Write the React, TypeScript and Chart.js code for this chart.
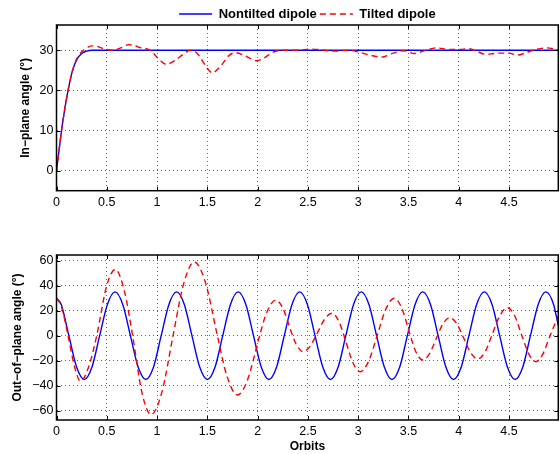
import React, { useEffect, useRef } from "react";
import { Chart, registerables } from "chart.js";

Chart.register(...registerables);

// ---------- data ----------
const X_TICKS = [0, 0.5, 1, 1.5, 2, 2.5, 3, 3.5, 4, 4.5];
const X_MIN = 0;
const X_MAX = 4.99;

const IN_Y_TICKS = [0, 10, 20, 30];
const IN_Y_MIN = -5;
const IN_Y_MAX = 36.3;

const OUT_Y_TICKS = [-60, -40, -20, 0, 20, 40, 60];
const OUT_Y_MIN = -67.4;
const OUT_Y_MAX = 64.5;

const SERIES_NAMES = ["Nontilted dipole", "Tilted dipole"];

// In-plane angle, nontilted dipole
const IN_X_BLUE = [0, 0.025, 0.05, 0.08, 0.115, 0.16, 0.2, 0.25, 0.3, 0.35, 0.4, 0.5, 1, 2, 3, 4, 4.99];
const IN_Y_BLUE = [0, 5, 10, 15, 20, 25, 27.6, 29.2, 29.8, 30, 30, 30, 30, 30, 30, 30, 30];

// In-plane angle, tilted dipole
const IN_X_RED = [
  0, 0.025, 0.05, 0.08, 0.115, 0.16, 0.2, 0.25, 0.3, 0.35,
  0.4, 0.47, 0.56, 0.64, 0.715, 0.78, 0.83, 0.93, 1.03, 1.09,
  1.18, 1.26, 1.33, 1.4, 1.5, 1.55, 1.63, 1.72, 1.78, 1.86,
  1.93, 1.99, 2.06, 2.13, 2.23, 2.4, 2.52, 2.6, 2.7, 2.8,
  2.9, 3.0, 3.1, 3.23, 3.35, 3.45, 3.56, 3.66, 3.78, 3.9,
  4.0, 4.1, 4.2, 4.27, 4.35, 4.42, 4.5, 4.58, 4.66, 4.74,
  4.87, 4.99,
];
const IN_Y_RED = [
  0, 5, 10, 15, 20, 25, 27.8, 29.6, 30.6, 31.1,
  31.0, 30.4, 30.0, 30.6, 31.4, 31.1, 30.7, 30.0, 27.5, 26.5,
  27.5, 29.0, 30.0, 29.2, 25.5, 24.4, 26.0, 28.8, 29.4, 28.8,
  27.9, 27.4, 28.0, 29.2, 30.0, 30.0, 30.3, 30.2, 29.9, 29.8,
  30.0, 29.6, 28.9, 28.3, 29.3, 29.9, 29.2, 29.9, 30.6, 30.2,
  30.2, 30.4, 29.5, 29.0, 29.2, 29.3, 29.3, 28.8, 29.3, 30.0,
  30.6, 30.1,
];

// Out-of-plane angle, nontilted dipole
const OUT_X_BLUE = [
  0, 0.047, 0.123, 0.2, 0.276, 0.353, 0.429, 0.506, 0.582, 0.659,
  0.735, 0.812, 0.888, 0.965, 1.041, 1.118, 1.194, 1.271, 1.347, 1.424,
  1.5, 1.577, 1.653, 1.73, 1.806, 1.883, 1.959, 2.036, 2.112, 2.189,
  2.265, 2.342, 2.418, 2.495, 2.571, 2.648, 2.724, 2.801, 2.877, 2.954,
  3.03, 3.107, 3.183, 3.26, 3.336, 3.413, 3.489, 3.566, 3.642, 3.719,
  3.795, 3.872, 3.948, 4.025, 4.101, 4.178, 4.254, 4.331, 4.407, 4.484,
  4.56, 4.637, 4.713, 4.79, 4.866, 4.943, 4.99,
];
const OUT_Y_BLUE = [
  30, 25, 0, -25, -35, -25, 0, 25, 35, 25,
  0, -25, -35, -25, 0, 25, 35, 25, 0, -25,
  -35, -25, 0, 25, 35, 25, 0, -25, -35, -25,
  0, 25, 35, 25, 0, -25, -35, -25, 0, 25,
  35, 25, 0, -25, -35, -25, 0, 25, 35, 25,
  0, -25, -35, -25, 0, 25, 35, 25, 0, -25,
  -35, -25, 0, 25, 35, 25, 8,
];

// Out-of-plane angle, tilted dipole
const OUT_X_RED = [
  0, 0.05, 0.115, 0.18, 0.24,
  0.326, 0.4, 0.499, 0.585,
  0.674, 0.757, 0.851, 0.94,
  1.048, 1.159, 1.263, 1.37,
  1.478, 1.6, 1.693, 1.8,
  1.895, 2.02, 2.085, 2.18,
  2.248, 2.348, 2.383, 2.45,
  2.523, 2.58, 2.668, 2.74,
  2.81, 2.859, 2.95, 3.02,
  3.105, 3.188, 3.275, 3.36,
  3.43, 3.519, 3.57, 3.64,
  3.708, 3.788, 3.843, 3.91,
  3.98, 4.039, 4.12, 4.19,
  4.264, 4.328, 4.411, 4.484,
  4.555, 4.628, 4.696, 4.766,
  4.836, 4.908, 4.99,
];
const OUT_Y_RED = [
  30, 23, 0, -25, -36.5,
  -23.4, 0, 39.9, 53,
  36, 0, -46, -63,
  -45.1, 0, 41.1, 59,
  43.4, 0, -31.8, -47.4,
  -36.3, 0, 17.4, 28.5,
  22.5, 0, -6.7, -12.8,
  -8.3, 0, 13.4, 17.9,
  11.1, 0, -22, -28.8,
  -20.2, 0, 21.3, 29.9,
  22.7, 0, -12.2, -19.4,
  -14.5, 0, 9.5, 14.4,
  9.6, 0, -13.8, -18.6,
  -12.6, 0, 16.4, 22.4,
  16.1, 0, -14.5, -20.8,
  -14.8, 0, 15.8,
];

// ---------- styling ----------
const FONT = "'Liberation Sans', Arial, Helvetica, sans-serif";
const BLUE = "#0000ff";
const RED = "#ff0000";
const GRID = "rgba(0,0,0,0.6)";
const PLOT_LEFT = 56.5;
const PLOT_RIGHT = 558.3;
const W = 560;
const LINE_W = 1.4;

const fmt = (v: number) => (v < 0 ? "\u2212" + Math.abs(v) : String(v));
const pts = (xs: number[], ys: number[]) => xs.map((x, i) => ({ x, y: ys[i] }));

const framePlugin = {
  id: "frame",
  afterDatasetsDraw(chart: any) {
    const { ctx, chartArea: a, scales } = chart;
    const xs = scales.x;
    const ys = scales.y;
    ctx.save();
    ctx.strokeStyle = "#000";
    ctx.lineWidth = 1;
    ctx.beginPath();
    for (const t of xs.ticks) {
      const px = Math.round(xs.getPixelForValue(t.value)) + 0.5;
      ctx.moveTo(px, a.bottom);
      ctx.lineTo(px, a.bottom - 4);
      ctx.moveTo(px, a.top);
      ctx.lineTo(px, a.top + 4);
    }
    for (const t of ys.ticks) {
      const py = Math.round(ys.getPixelForValue(t.value)) + 0.5;
      ctx.moveTo(a.left, py);
      ctx.lineTo(a.left + 4, py);
      ctx.moveTo(a.right, py);
      ctx.lineTo(a.right - 4, py);
    }
    ctx.stroke();
    ctx.lineWidth = 1.5;
    ctx.strokeRect(a.left, a.top, a.right - a.left, a.bottom - a.top);
    ctx.restore();
  },
};

const legendFitPlugin = (h: number) => ({
  id: "legendFit",
  beforeLayout(chart: any) {
    const lg = chart.legend;
    if (lg && !lg.__patched) {
      const orig = lg.fit;
      lg.fit = function () {
        orig.call(this);
        if (this.options && this.options.display) this.height = h;
      };
      lg.__patched = true;
    }
  },
});

function makeConfig(opts: {
  blueX: number[]; blueY: number[]; redX: number[]; redY: number[];
  yTicks: number[]; yMin: number; yMax: number; yTitle: string; yTitlePad: number;
  xHeight: number; showXTitle: boolean; legend: boolean;
  padTop: number; padBottom: number;
}) {
  return {
    type: "line",
    data: {
      datasets: [
        {
          label: SERIES_NAMES[0],
          data: pts(opts.blueX, opts.blueY),
          borderColor: BLUE,
          backgroundColor: BLUE,
          borderWidth: LINE_W,
          pointRadius: 0,
          cubicInterpolationMode: "monotone",
          fill: false,
          order: 1,
        },
        {
          label: SERIES_NAMES[1],
          data: pts(opts.redX, opts.redY),
          borderColor: RED,
          backgroundColor: RED,
          borderWidth: LINE_W,
          borderDash: [6, 4],
          pointRadius: 0,
          cubicInterpolationMode: "monotone",
          fill: false,
          order: 0,
        },
      ],
    },
    options: {
      responsive: false,
      maintainAspectRatio: false,
      animation: false,
      devicePixelRatio: 1,
      events: [],
      layout: { padding: { left: 0, right: W - PLOT_RIGHT, top: opts.padTop, bottom: opts.padBottom } },
      plugins: {
        tooltip: { enabled: false },
        legend: {
          display: opts.legend,
          position: "top",
          fullSize: false,
          align: "center",
          labels: {
            usePointStyle: true,
            pointStyle: "line",
            pointStyleWidth: 33,
            padding: 3,
            color: "#000",
            font: { family: FONT, size: 13, weight: "bold" },
            sort: (a: any, b: any) => a.datasetIndex - b.datasetIndex,
            generateLabels: (chart: any) => {
              const items = Chart.defaults.plugins.legend.labels.generateLabels(chart);
              return items.map((it: any) => {
                const ds = chart.data.datasets[it.datasetIndex];
                return {
                  ...it,
                  pointStyle: "line",
                  strokeStyle: ds.borderColor,
                  fillStyle: ds.borderColor,
                  lineWidth: ds.borderWidth,
                  lineDash: ds.borderDash || [],
                  lineDashOffset: 0,
                  fontColor: "#000",
                };
              });
            },
          },
        },
      },
      scales: {
        x: {
          type: "linear",
          min: X_MIN,
          max: X_MAX,
          afterBuildTicks: (s: any) => {
            s.ticks = X_TICKS.map((v) => ({ value: v }));
          },
          afterFit: (s: any) => {
            s.height = opts.xHeight;
          },
          grid: { color: GRID, lineWidth: 1, drawTicks: false },
          border: { display: false, dash: [1, 3] },
          ticks: {
            color: "#000",
            padding: 4,
            maxRotation: 0,
            autoSkip: false,
            font: { family: FONT, size: 12.5 },
            callback: (v: any) => fmt(Number(v)),
          },
          title: {
            display: opts.showXTitle,
            text: "Orbits",
            color: "#000",
            font: { family: FONT, size: 12, weight: "bold" },
            padding: { top: 1, bottom: 0 },
          },
        },
        y: {
          type: "linear",
          min: opts.yMin,
          max: opts.yMax,
          afterBuildTicks: (s: any) => {
            s.ticks = opts.yTicks.map((v) => ({ value: v }));
          },
          afterFit: (s: any) => {
            s.width = PLOT_LEFT;
          },
          grid: { color: GRID, lineWidth: 1, drawTicks: false },
          border: { display: false, dash: [1, 3] },
          ticks: {
            color: "#000",
            padding: 3,
            autoSkip: false,
            font: { family: FONT, size: 12.5 },
            callback: (v: any) => fmt(Number(v)),
          },
          title: {
            display: true,
            text: opts.yTitle,
            color: "#000",
            font: { family: FONT, size: 12, weight: "bold" },
            padding: { top: opts.yTitlePad, bottom: 0 },
          },
        },
      },
    },
    plugins: opts.legend ? [framePlugin, legendFitPlugin(20.5)] : [framePlugin],
  } as any;
}

function Panel(props: { top: number; height: number; build: () => any }) {
  const ref = useRef<HTMLCanvasElement>(null);
  useEffect(() => {
    const chart = new Chart(ref.current as HTMLCanvasElement, props.build());
    return () => chart.destroy();
  }, []);
  return (
    <canvas
      ref={ref}
      width={W}
      height={props.height}
      style={{ position: "absolute", left: 0, top: props.top, width: W, height: props.height, display: "block" }}
    />
  );
}

const buildTop = () =>
  makeConfig({
    blueX: IN_X_BLUE, blueY: IN_Y_BLUE, redX: IN_X_RED, redY: IN_Y_RED,
    yTicks: IN_Y_TICKS, yMin: IN_Y_MIN, yMax: IN_Y_MAX,
    yTitle: "In\u2212plane angle (\u00b0)", yTitlePad: 18.8,
    xHeight: 21, showXTitle: false, legend: true,
    padTop: 4.5, padBottom: 227 - 190.7 - 21,
  });

const buildBottom = () =>
  makeConfig({
    blueX: OUT_X_BLUE, blueY: OUT_Y_BLUE, redX: OUT_X_RED, redY: OUT_Y_RED,
    yTicks: OUT_Y_TICKS, yMin: OUT_Y_MIN, yMax: OUT_Y_MAX,
    yTitle: "Out\u2212of\u2212plane angle (\u00b0)", yTitlePad: 10.8,
    xHeight: 34, showXTitle: true, legend: false,
    padTop: 255 - 227, padBottom: 0,
  });

export default function App() {
  return (
    <div style={{ position: "absolute", left: 0, top: 0, width: W, height: 454, background: "#fff", overflow: "hidden" }}>
      <Panel top={0} height={227} build={buildTop} />
      <Panel top={227} height={227} build={buildBottom} />
    </div>
  );
}
